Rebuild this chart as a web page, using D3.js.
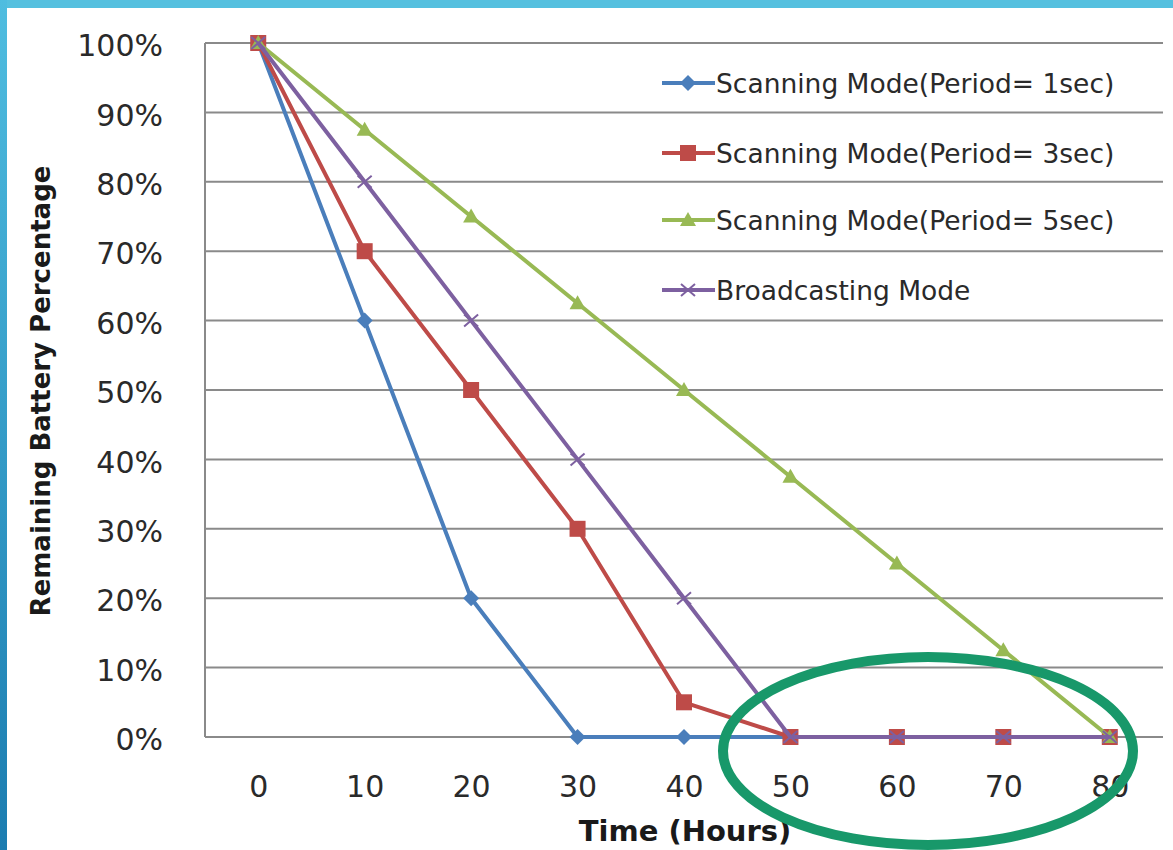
<!DOCTYPE html>
<html><head><meta charset="utf-8">
<script src="https://cdn.jsdelivr.net/npm/d3@7"></script>
<style>html,body{margin:0;padding:0;background:#fff;overflow:hidden}</style>
</head><body>
<svg id="c" width="1173" height="850"></svg>
<script>
const hours = [0, 10, 20, 30, 40, 50, 60, 70, 80];
const scan1 = [100, 60, 20, 0, 0, 0, 0, 0, 0];
const scan3 = [100, 70, 50, 30, 5, 0, 0, 0, 0];
const scan5 = [100, 87.5, 75, 62.5, 50, 37.5, 25, 12.5, 0];
const broadcast = [100, 80, 60, 40, 20, 0, 0, 0, 0];
const seriesNames = ["Scanning Mode(Period= 1sec)", "Scanning Mode(Period= 3sec)", "Scanning Mode(Period= 5sec)", "Broadcasting Mode"];
const yTicks = [0, 10, 20, 30, 40, 50, 60, 70, 80, 90, 100];

const FONT = "DejaVu Sans, Verdana, sans-serif";
const svg = d3.select("#c");
svg.append("rect").attr("x",0).attr("y",0).attr("width",1173).attr("height",850).attr("fill","#fff");
const grad = svg.append("defs").append("linearGradient").attr("id","lg").attr("x1",0).attr("y1",0).attr("x2",0).attr("y2",1);
grad.append("stop").attr("offset","0%").attr("stop-color","#4fbde0");
grad.append("stop").attr("offset","100%").attr("stop-color","#1b7cb0");
svg.append("rect").attr("x",0).attr("y",0).attr("width",1173).attr("height",8).attr("fill","#55c0df");
svg.append("rect").attr("x",0).attr("y",0).attr("width",7).attr("height",850).attr("fill","url(#lg)");

const L = 205, R = 1163, T = 43, B = 737;
const x = d3.scalePoint().domain(hours).range([L, R]).padding(0.5);
const y = d3.scaleLinear().domain([0, 100]).range([B, T]);

svg.append("g").selectAll("line").data(yTicks).join("line")
  .attr("x1", L).attr("x2", R).attr("y1", d => y(d)).attr("y2", d => y(d))
  .attr("stroke", "#8a8a8a").attr("stroke-width", 2);
svg.append("line").attr("x1", L).attr("x2", L).attr("y1", T).attr("y2", B)
  .attr("stroke", "#8a8a8a").attr("stroke-width", 2);

const yAxis = d3.axisLeft(y).tickValues(yTicks).tickFormat(d => d + "%").tickSize(0).tickPadding(42);
const gy = svg.append("g").attr("transform", `translate(${L},0)`).call(yAxis);
gy.select(".domain").remove();
gy.selectAll("text").attr("font-family", FONT).attr("font-size", 30).attr("fill", "#2a2a2a").attr("dy", "0.42em");

const xAxis = d3.axisBottom(x).tickSize(0).tickPadding(39);
const gx = svg.append("g").attr("transform", `translate(0,${B})`).call(xAxis);
gx.select(".domain").remove();
gx.selectAll("text").attr("font-family", FONT).attr("font-size", 30).attr("fill", "#2a2a2a");

svg.append("text").attr("x", 685).attr("y", 841).attr("text-anchor", "middle")
  .attr("font-family", FONT).attr("font-weight", "bold").attr("font-size", 29)
  .attr("fill", "#1a1a1a").text("Time (Hours)");
svg.append("text").attr("transform", "translate(50,391) rotate(-90)").attr("text-anchor", "middle")
  .attr("font-family", FONT).attr("font-weight", "bold").attr("font-size", 26)
  .attr("fill", "#1a1a1a").text("Remaining Battery Percentage");

const colors = ["#4a7ebb", "#be4b48", "#98b954", "#7d60a0"];
const allData = [scan1, scan3, scan5, broadcast];
const shapes = ["diamond", "square", "triangle", "x"];

function marker(g, shape, color, cx, cy) {
  if (shape === "diamond") {
    g.append("path").attr("d", `M${cx},${cy-8}L${cx+8},${cy}L${cx},${cy+8}L${cx-8},${cy}Z`).attr("fill", color);
  } else if (shape === "square") {
    g.append("rect").attr("x", cx-8).attr("y", cy-8).attr("width", 16).attr("height", 16).attr("fill", color);
  } else if (shape === "triangle") {
    g.append("path").attr("d", `M${cx},${cy-8}L${cx+8},${cy+6}L${cx-8},${cy+6}Z`).attr("fill", color);
  } else {
    g.append("path").attr("d", `M${cx-7},${cy-6}L${cx+7},${cy+6}M${cx-7},${cy+6}L${cx+7},${cy-6}`)
      .attr("stroke", color).attr("stroke-width", 2).attr("fill", "none");
  }
}

const line = d3.line().x((d, i) => x(hours[i])).y(d => y(d));
allData.forEach((data, k) => {
  const g = svg.append("g");
  g.append("path").datum(data).attr("d", line).attr("fill", "none")
    .attr("stroke", colors[k]).attr("stroke-width", 4).attr("stroke-linejoin", "round");
  data.forEach((v, i) => marker(g, shapes[k], colors[k], x(hours[i]), y(v)));
});

const legY = [83, 153, 220, 290];
seriesNames.forEach((name, k) => {
  const g = svg.append("g");
  g.append("line").attr("x1", 662).attr("x2", 715).attr("y1", legY[k]).attr("y2", legY[k])
    .attr("stroke", colors[k]).attr("stroke-width", 4);
  marker(g, shapes[k], colors[k], 688, legY[k]);
  g.append("text").attr("x", 716).attr("y", legY[k] + 10)
    .attr("font-family", FONT).attr("font-size", 26.5)
    .attr("fill", "#2a2a2a").text(name);
});

svg.append("ellipse").attr("cx", 928).attr("cy", 751).attr("rx", 205).attr("ry", 94)
  .attr("fill", "none").attr("stroke", "#18986a").attr("stroke-width", 10);
</script>
</body></html>
